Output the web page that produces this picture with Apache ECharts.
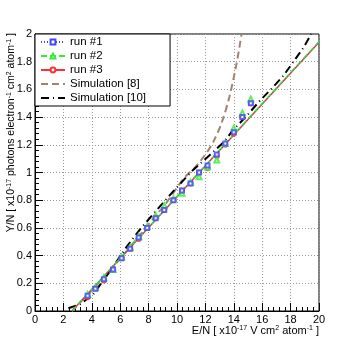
<!DOCTYPE html>
<html>
<head>
    <meta charset="utf-8">
    <title>Y/N vs E/N</title>
    <script src="https://cdn.jsdelivr.net/npm/echarts@6/dist/echarts.min.js"></script>
</head>
<body style="margin:0">
<div id="main" style="width:355px;height:346px"></div>
<script type="text/javascript">
    // measured points (E/N, x10^-17)
    var enPoints = [3.7, 4.25, 4.85, 5.5, 6.1, 6.7, 7.3, 7.9, 8.5, 9.1, 9.75, 10.35, 10.95, 11.55, 12.15, 12.8, 13.4, 14.0, 14.6, 15.2];
    var run1 = [0.11, 0.16, 0.23, 0.30, 0.38, 0.45, 0.53, 0.60, 0.67, 0.73, 0.80, 0.87, 0.92, 1.00, 1.05, 1.13, 1.21, 1.29, 1.40, 1.50];
    var run2 = [0.12, 0.17, 0.24, 0.30, 0.39, 0.46, 0.54, 0.61, 0.69, 0.76, 0.81, 0.85, 0.93, 0.97, 1.04, 1.09, 1.21, 1.32, 1.43, 1.53];
    var run3 = [0.10, 0.16, 0.22, 0.30, 0.38, 0.45, 0.52, 0.60, 0.67, 0.73, 0.80, 0.87, 0.92, 1.00, 1.03, 1.12, 1.20, 1.28, 1.40, 1.50];

    // linear fits of each run
    var fitX = [2.6, 20];
    var fit1 = [0, 1.94];
    var fit2 = [0, 1.945];
    var fit3 = [0, 1.94];

    // simulations
    var sim8X = [2.6, 4, 5.5, 7, 8.5, 9.1, 10.5, 11.3, 11.7, 12.2, 12.6, 13.15, 13.7, 14.2, 14.55];
    var sim8Y = [0, 0.15, 0.32, 0.5, 0.69, 0.76, 0.96, 1.04, 1.09, 1.16, 1.23, 1.36, 1.55, 1.79, 2.0];
    var sim10X = [2.35, 3.2, 4.1, 5.3, 6.5, 7.4, 8.5, 9.7, 11.05, 12.35, 13.3, 13.9, 15.0, 15.85, 16.7, 17.5, 18.2, 18.9, 19.45];
    var sim10Y = [0.02, 0.05, 0.12, 0.29, 0.47, 0.59, 0.72, 0.86, 1.01, 1.13, 1.22, 1.30, 1.42, 1.52, 1.61, 1.70, 1.80, 1.90, 2.0];

    var legendNames = ['run #1', 'run #2', 'run #3', 'Simulation [8]', 'Simulation [10]'];

    var FONT = 'Liberation Sans';

    function pairs(xs, ys) {
        return xs.map(function (x, i) { return [x, ys[i]]; });
    }

    var myChart = echarts.init(document.getElementById('main'));

    var axisCommon = {
        type: 'value',
        axisLine: { show: true, onZero: false, lineStyle: { color: '#000', width: 1 } },
        axisTick: { show: true, inside: true, length: 8, lineStyle: { color: '#000' } },
        minorTick: { show: true, splitNumber: 5, length: 4, lineStyle: { color: '#000' } },
        splitLine: { show: true, lineStyle: { color: '#999', type: [1, 2], width: 1 } },
        axisLabel: { color: '#000', fontSize: 11, fontFamily: FONT, margin: 3 }
    };

    var option = {
        animation: false,
        backgroundColor: '#fff',
        grid: { left: 35, right: 36, top: 34, bottom: 35, show: true, borderColor: '#000', borderWidth: 1 },
        xAxis: Object.assign({}, axisCommon, { min: 0, max: 20, interval: 2 }),
        yAxis: Object.assign({}, axisCommon, { min: 0, max: 2, interval: 0.2 }),
        legend: {
            orient: 'vertical',
            left: 35,
            top: 34,
            backgroundColor: '#fff',
            borderColor: '#000',
            borderWidth: 1,
            borderRadius: 0,
            padding: [2, 24, 2, 5],
            itemWidth: 24,
            itemHeight: 6,
            itemGap: 2,
            textStyle: { fontSize: 11.5, fontFamily: FONT, color: '#000', lineHeight: 12 },
            data: [
                { name: legendNames[0], itemStyle: { borderWidth: 1 } },
                { name: legendNames[1], itemStyle: { borderWidth: 1 } },
                { name: legendNames[2], itemStyle: { borderWidth: 1 } },
                { name: legendNames[3], itemStyle: { color: 'rgba(0,0,0,0)', borderWidth: 0 } },
                { name: legendNames[4], itemStyle: { color: 'rgba(0,0,0,0)', borderWidth: 0 } }
            ]
        },
        graphic: [
            {
                type: 'text',
                right: 36,
                top: 325,
                style: {
                    text: 'E/N [ x10{s|-17} V cm{s|2} atom{s|-1} ]',
                    fill: '#000',
                    font: '11px ' + FONT,
                    rich: { s: { fontSize: 7, fontFamily: FONT, verticalAlign: 'top', fill: '#000' } }
                }
            },
            {
                type: 'text',
                x: 6,
                y: 33,
                rotation: Math.PI / 2,
                style: {
                    text: 'Y/N [ x10{s|-17} photons electron{s|-1} cm{s|2} atom{s|-1} ]',
                    fill: '#000',
                    font: '10.5px ' + FONT,
                    align: 'right',
                    verticalAlign: 'top',
                    rich: { s: { fontSize: 7, fontFamily: FONT, verticalAlign: 'top', fill: '#000' } }
                }
            }
        ],
        series: [
            {
                name: legendNames[3], type: 'line', data: pairs(sim8X, sim8Y),
                symbol: 'circle', showSymbol: false, smooth: 0.3,
                itemStyle: { color: '#a08472' },
                lineStyle: { color: '#a08472', width: 2, type: [7, 4] }, z: 2
            },
            {
                name: legendNames[4], type: 'line', data: pairs(sim10X, sim10Y),
                symbol: 'circle', showSymbol: false,
                itemStyle: { color: '#000' },
                lineStyle: { color: '#000', width: 2, type: [8, 4, 1, 4] }, z: 2
            },
            {
                name: legendNames[0], type: 'line', data: pairs(fitX, fit1),
                symbol: 'emptyRect', showSymbol: false,
                itemStyle: { color: '#4444ff' },
                lineStyle: { color: '#4444ff', width: 1, type: [1, 2] }, z: 5
            },
            {
                name: legendNames[1], type: 'line', data: pairs(fitX, fit2),
                symbol: 'emptyTriangle', showSymbol: false,
                itemStyle: { color: '#33ee33' },
                lineStyle: { color: '#33ee33', width: 1.5, type: [6, 3] }, z: 4
            },
            {
                name: legendNames[2], type: 'line', data: pairs(fitX, fit3),
                symbol: 'emptyCircle', showSymbol: false,
                itemStyle: { color: '#ff3030' },
                lineStyle: { color: '#ff3030', width: 1.5 }, z: 3
            },
            {
                name: legendNames[2], type: 'scatter', data: pairs(enPoints, run3),
                symbol: 'emptyCircle', symbolSize: 4,
                itemStyle: { color: '#ff3030', borderWidth: 1 }, z: 6
            },
            {
                name: legendNames[1], type: 'scatter', data: pairs(enPoints, run2),
                symbol: 'emptyTriangle', symbolSize: 5,
                itemStyle: { color: '#33ee33', borderWidth: 1 }, z: 6
            },
            {
                name: legendNames[0], type: 'scatter', data: pairs(enPoints, run1),
                symbol: 'emptyRect', symbolSize: 4,
                itemStyle: { color: '#4444ff', borderWidth: 1 }, z: 6
            }
        ]
    };

    myChart.setOption(option);
</script>
</body>
</html>
